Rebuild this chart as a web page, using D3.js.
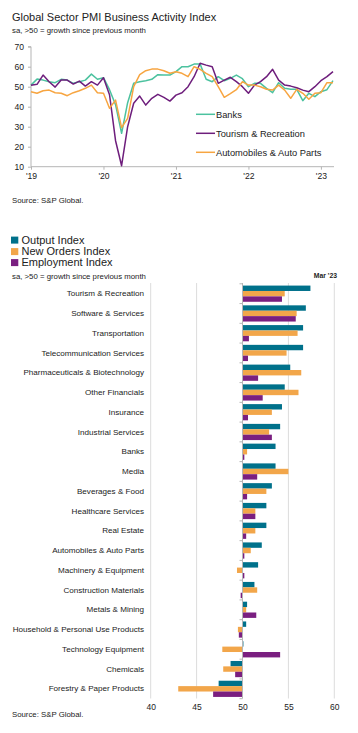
<!DOCTYPE html>
<html><head><meta charset="utf-8">
<script src="https://cdn.jsdelivr.net/npm/d3@7/dist/d3.min.js"></script>
<style>
body{margin:0;background:#fff}
svg{display:block}
text{font-family:"Liberation Sans",Arial,sans-serif;fill:#222}
</style>
</head><body>
<svg id="c" width="358" height="733"></svg>
<script>
// ---------- Line chart data (Jan 2019 .. Mar 2023, monthly) ----------
const lineStart = new Date(2019, 0, 1);
const lineMonths = d3.timeMonth.range(lineStart, new Date(2023, 3, 1));
const lineSeriesNames = ["Banks", "Tourism & Recreation", "Automobiles & Auto Parts"];
const banks = [
  50.8, 53.8, 53.3, 52.5, 52.0, 53.7, 53.3, 51.7, 52.5, 53.3, 56.3, 53.7,
  54.5, 48.5, 41.0, 26.7, 42.0, 51.7, 52.5, 53.0, 53.7, 56.0, 55.8, 55.8,
  57.5, 60.0, 60.0, 61.3, 61.3, 53.7, 52.5, 55.0, 53.0, 54.2, 55.8, 54.0,
  50.0, 51.7, 51.7, 49.2, 47.0, 52.0, 49.2, 48.7, 48.7, 43.0, 46.7, 45.0,
  47.5, 48.5, 53.0
];
const tourism = [
  50.7, 51.2, 55.8, 52.5, 49.8, 53.3, 53.3, 51.3, 52.8, 50.3, 52.5, 50.8,
  54.5, 46.0, 23.0, 10.5, 30.0, 41.7, 45.3, 40.8, 44.2, 46.2, 44.7, 42.8,
  45.8, 47.0, 50.0, 55.0, 61.7, 60.8, 60.0, 51.7, 53.3, 54.7, 52.5, 50.0,
  46.7, 50.8, 52.5, 55.0, 58.7, 53.3, 50.8, 50.3, 49.5, 48.3, 47.5, 50.0,
  53.0, 55.0, 57.5
];
const autos = [
  47.5, 46.7, 48.0, 48.3, 47.0, 46.7, 45.5, 47.0, 48.0, 49.2, 50.8, 47.0,
  46.7, 39.2, 43.3, 29.5, 34.2, 50.0, 56.0, 58.0, 58.8, 58.8, 58.0, 56.7,
  57.5, 56.7, 55.0, 60.0, 58.7, 56.7, 55.0, 50.0, 44.7, 46.5, 48.5, 52.5,
  50.8, 50.8, 50.0, 48.7, 48.3, 50.8, 48.3, 44.2, 48.7, 46.7, 43.7, 46.7,
  47.0, 52.0, 52.0
];
const lineYTicks = [10, 20, 30, 40, 50, 60, 70];
const lineYearTicks = ["'19", "'20", "'21", "'22", "'23"];

// ---------- Bar chart data (Mar '23) ----------
const barCategories = [
  "Tourism & Recreation", "Software & Services", "Transportation",
  "Telecommunication Services", "Pharmaceuticals & Biotechnology",
  "Other Financials", "Insurance", "Industrial Services", "Banks", "Media",
  "Beverages & Food", "Healthcare Services", "Real Estate",
  "Automobiles & Auto Parts", "Machinery & Equipment", "Construction Materials",
  "Metals & Mining", "Household & Personal Use Products",
  "Technology Equipment", "Chemicals", "Forestry & Paper Products"
];
const barSeriesNames = ["Output Index", "New Orders Index", "Employment Index"];
const outputIdx     = [57.4, 56.9, 56.6, 56.6, 55.2, 54.6, 54.3, 54.1, 53.6, 53.6, 53.2, 52.6, 52.6, 52.1, 51.7, 51.3, 50.5, 50.4, 50.1, 48.7, 47.4];
const newOrdersIdx  = [54.6, 55.9, 56.0, 54.8, 56.4, 56.1, 53.2, 52.9, 50.5, 55.0, 52.6, 51.4, 51.4, 50.9, 49.4, 51.6, 50.4, 49.5, 47.8, 47.9, 43.0];
const employmentIdx = [54.3, 55.8, 50.7, 50.6, 51.7, 52.2, 50.6, 53.2, 50.2, 51.6, 50.5, 51.4, 50.4, 50.2, 50.2, 49.8, 51.5, 49.6, 54.1, 49.2, 46.8];
const barTicks = [40, 45, 50, 55, 60];

// ---------- drawing ----------
const svg = d3.select("#c");
const lineColors = ["#4cc29f", "#6e1e7c", "#f7a541"];
const barColors = ["#00718b", "#f2a64a", "#7a1f80"];
const axisGrey = "#b5b5b5";
const FF = '"Liberation Sans",Arial,sans-serif';

// Titles
svg.append("text").attr("x", 12).attr("y", 20.5).attr("font-size", 11).attr("fill", "#222")
  .text("Global Sector PMI Business Activity Index");
svg.append("text").attr("x", 12).attr("y", 32.5).attr("font-size", 7.8).attr("fill", "#333")
  .text("sa, >50 = growth since previous month");

// Line chart scales
const lx = d3.scaleLinear().domain([0, lineMonths.length - 1]).range([31, 333]);
const ly = d3.scaleLinear().domain([10, 70]).range([166.7, 46.7]);

const gL = svg.append("g");
// y axis
const yAx = gL.append("g").attr("transform", "translate(31,0)")
  .call(d3.axisLeft(ly).tickValues(lineYTicks).tickSize(3).tickPadding(4).tickFormat(d3.format("d")));
yAx.select(".domain").attr("stroke", axisGrey).attr("d", `M-3,${ly(70)}H0V${ly(10)}`);
yAx.selectAll(".tick line").attr("stroke", axisGrey);
yAx.selectAll("text").attr("font-size", 8.6).attr("fill", "#222").attr("font-family", FF);

// x axis
const yearIdx = lineYearTicks.map((d, i) => i * 12);
const xAx = gL.append("g").attr("transform", `translate(0,${ly(10)})`)
  .call(d3.axisBottom(lx).tickValues(yearIdx).tickSize(3).tickPadding(3.5).tickFormat((d, i) => lineYearTicks[i]));
xAx.select(".domain").attr("stroke", axisGrey).attr("d", `M31,0H334`);
xAx.selectAll(".tick line").attr("stroke", axisGrey);
xAx.selectAll("text").attr("font-size", 8.6).attr("fill", "#222").attr("font-family", FF);

// lines
const lineGen = d3.line().x((d, i) => lx(i)).y(d => ly(d));
[banks, tourism, autos].forEach((s, k) => {
  gL.append("path").datum(s).attr("d", lineGen).attr("fill", "none")
    .attr("stroke", lineColors[k]).attr("stroke-width", 1.5).attr("stroke-linejoin", "round");
});

// legend
const legYs = [114.3, 133.3, 152.3];
lineSeriesNames.forEach((n, k) => {
  gL.append("line").attr("x1", 196).attr("x2", 215).attr("y1", legYs[k]).attr("y2", legYs[k])
    .attr("stroke", lineColors[k]).attr("stroke-width", 1.5);
  gL.append("text").attr("x", 216).attr("y", legYs[k]).attr("dy", "0.35em").attr("font-size", 9.3)
    .text(n);
});

svg.append("text").attr("x", 12).attr("y", 202.5).attr("font-size", 7.8).attr("fill", "#222")
  .text("Source: S&P Global.");

// ---------- Bar chart ----------
const legBarYs = [240, 251.5, 262.5];
barSeriesNames.forEach((n, k) => {
  svg.append("rect").attr("x", 11).attr("y", legBarYs[k] - 3.4).attr("width", 7.3).attr("height", 7)
    .attr("fill", barColors[k]);
  svg.append("text").attr("x", 21.5).attr("y", legBarYs[k]).attr("dy", "0.36em").attr("font-size", 11)
    .attr("fill", "#111").text(n);
});
svg.append("text").attr("x", 12).attr("y", 278.5).attr("font-size", 7.8).attr("fill", "#333")
  .text("sa, >50 = growth since previous month");
svg.append("text").attr("x", 337).attr("y", 278.3).attr("text-anchor", "end").attr("font-size", 6.8)
  .attr("font-weight", "bold").attr("fill", "#333").text("Mar '23");

const bx = d3.scaleLinear().domain([40, 60]).range([150.7, 334.3]);
const by = d3.scaleBand().domain(barCategories).range([283.8, 698.7]).paddingInner(0.18).paddingOuter(0.09);
const bySub = d3.scaleBand().domain(barSeriesNames).range([0, by.bandwidth()]).padding(0);

const gB = svg.append("g");
// gridlines
barTicks.filter(t => t !== 50).forEach(t => {
  gB.append("line").attr("x1", bx(t)).attr("x2", bx(t)).attr("y1", 283).attr("y2", 698.5)
    .attr("stroke", "#dcdcdc").attr("stroke-width", 1);
});

const seriesVals = [outputIdx, newOrdersIdx, employmentIdx];
barCategories.forEach((c, i) => {
  seriesVals.forEach((vals, k) => {
    const v = vals[i];
    gB.append("rect")
      .attr("x", bx(Math.min(50, v)))
      .attr("width", Math.abs(bx(v) - bx(50)))
      .attr("y", by(c) + bySub(barSeriesNames[k]))
      .attr("height", bySub.bandwidth())
      .attr("fill", barColors[k]);
  });
});

// category axis at 50
const yB = gB.append("g").attr("transform", `translate(${bx(50)},0)`)
  .call(d3.axisLeft(by).tickSize(0).tickPadding(98.5));
yB.select(".domain").attr("stroke", axisGrey).attr("d", `M0,283V698.5`);
yB.selectAll("text").attr("font-size", 8.1).attr("fill", "#222").attr("font-family", FF);
// small tick marks at band boundaries
d3.range(barCategories.length + 1).forEach(i => {
  const yy = 283.8 + by.step() * i;
  gB.append("line").attr("x1", bx(50) - 3).attr("x2", bx(50)).attr("y1", yy).attr("y2", yy)
    .attr("stroke", axisGrey);
});

// x axis labels
const xB = gB.append("g").attr("transform", `translate(0,698.5)`)
  .call(d3.axisBottom(bx).tickValues(barTicks).tickSize(0).tickPadding(5).tickFormat(d3.format("d")));
xB.select(".domain").remove();
xB.selectAll("text").attr("font-size", 8.5).attr("fill", "#222").attr("font-family", FF);

svg.append("text").attr("x", 12).attr("y", 716.5).attr("font-size", 7.8).attr("fill", "#222")
  .text("Source: S&P Global.");
</script>
</body></html>
